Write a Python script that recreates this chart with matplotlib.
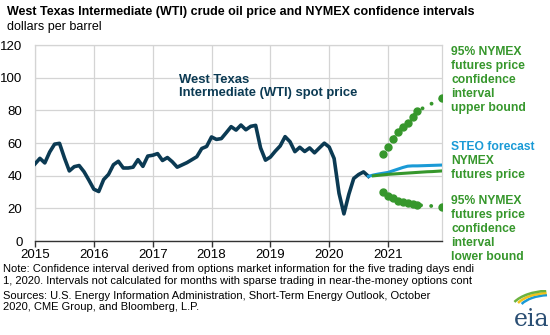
import numpy as np
import matplotlib.pyplot as plt
from matplotlib.patches import Arc

plt.rcParams['font.family'] = ['Liberation Sans', 'DejaVu Sans']

# monthly WTI spot price, Jan 2015 - Sep 2020
wti = [47.2, 50.6, 47.8, 54.5, 59.3, 59.8, 50.9, 42.9, 45.5, 46.2, 42.4, 37.2,
       31.7, 30.3, 37.6, 40.8, 46.7, 48.8, 44.7, 44.7, 45.2, 49.8, 45.7, 52.0,
       52.5, 53.5, 49.3, 51.1, 48.5, 45.2, 46.6, 48.0, 49.8, 51.6, 56.6, 57.9,
       63.7, 62.2, 62.7, 66.3, 70.0, 67.9, 71.0, 68.1, 70.2, 70.8, 57.0, 49.5,
       51.4, 55.0, 58.2, 63.9, 60.8, 54.7, 57.4, 54.8, 57.0, 54.0, 57.0, 59.9,
       57.5, 50.5, 29.2, 16.6, 28.6, 38.3, 40.7, 42.3, 39.6]
# STEO forecast, Sep 2020 - Dec 2021
steo = [39.6, 40.4, 41.0, 41.5, 42.0, 43.0, 44.0, 45.0, 45.8, 46.0, 46.0, 46.1,
        46.2, 46.3, 46.4, 46.5]
# NYMEX futures, Oct 2020 - Dec 2021
nymex = [39.9, 40.2, 40.5, 40.8, 41.0, 41.2, 41.4, 41.6, 41.8, 42.0, 42.2, 42.4,
         42.5, 42.7, 42.9]
# 95% confidence bounds, Dec 2020 - Jul 2021 and Dec 2021
ci_months = ['2020-12', '2021-01', '2021-02', '2021-03', '2021-04', '2021-05',
             '2021-06', '2021-07', '2021-12']
upper = [53.3, 57.7, 62.3, 66.5, 70.0, 72.5, 75.7, 79.6, 87.4]
lower = [29.8, 27.8, 26.1, 24.7, 23.9, 23.3, 22.7, 22.0, 21.0]

years = [2015, 2016, 2017, 2018, 2019, 2020, 2021]


def month_x(s):
    y, m = s.split('-')
    return int(y) + (int(m) - 1) / 12


x_wti = 2015 + np.arange(len(wti)) / 12
x_steo = 2020 + 8 / 12 + np.arange(len(steo)) / 12
x_nymex = 2020 + 9 / 12 + np.arange(len(nymex)) / 12
x_ci = np.array([month_x(s) for s in ci_months])

navy = '#0b3a53'
blue = '#1a9ad6'
green = '#36972c'

fig = plt.figure(figsize=(5.5, 3.35), dpi=100)
ax = fig.add_axes([35 / 550, 1 - 241 / 335, 407 / 550, 196 / 335])

ax.plot(x_wti, wti, color=navy, lw=2.6, solid_joinstyle='round', zorder=3)
ax.plot(x_steo, steo, color=blue, lw=2.2, zorder=3)
ax.plot(x_nymex, nymex, color=green, lw=2.2, zorder=4)

for vals in (upper, lower):
    ax.plot(x_ci, vals, color=green, lw=2.8, ls=(0, (0.01, 2.6)),
            dash_capstyle='round', zorder=4)
    ax.plot(x_ci, vals, 'o', color=green, ms=5, zorder=5)

ax.set_xlim(2015, 2021 + 11 / 12)
ax.set_ylim(0, 120)
ax.set_xticks(years)
ax.set_xticklabels([str(y) for y in years])
ax.set_yticks(range(0, 121, 20))
ax.grid(True, color='#d4d4d4', lw=0.9)
ax.set_axisbelow(True)
for side in ('left', 'top', 'right'):
    ax.spines[side].set_color('#d4d4d4')
    ax.spines[side].set_linewidth(0.9)
ax.spines['bottom'].set_color('#333333')
ax.spines['bottom'].set_linewidth(1.0)
ax.tick_params(axis='x', length=4, width=1, color='#333333', labelsize=9.5, pad=2)
ax.tick_params(axis='y', length=0, labelsize=9.5, pad=9)

ax.text(2017.45, 94.5, 'West Texas\nIntermediate (WTI) spot price', color=navy,
        fontsize=9.4, fontweight='bold', va='center', ha='left', linespacing=1.05)


def ftext(x, y, s, **kw):
    fig.text(x / 550, 1 - y / 335, s, va='center', ha='left', **kw)


ftext(7, 12, 'West Texas Intermediate (WTI) crude oil price and NYMEX confidence intervals',
      fontsize=9, fontweight='bold')
ftext(7, 27, 'dollars per barrel', fontsize=9)

side = dict(fontsize=8.7, fontweight='bold', linespacing=1.2)
ftext(451, 80, '95% NYMEX\nfutures price\nconfidence\ninterval\nupper bound',
      color=green, **side)
ftext(451, 147, 'STEO forecast', color=blue, **side)
ftext(451, 168, 'NYMEX\nfutures price', color=green, **side)
ftext(451, 229, '95% NYMEX\nfutures price\nconfidence\ninterval\nlower bound',
      color=green, **side)

note = dict(fontsize=8)
ftext(3, 269, 'Note: Confidence interval derived from options market information for the five trading days endi',
      **note)
ftext(3, 281, '1, 2020. Intervals not calculated for months with sparse trading in near-the-money options cont',
      **note)
ftext(3, 296, 'Sources: U.S. Energy Information Administration, Short-Term Energy Outlook, October',
      **note)
ftext(3, 307, '2020, CME Group, and Bloomberg, L.P.', **note)

# eia logo
fig.text(532 / 550, 1 - 320 / 335, 'eia', color='#2a4e73', fontsize=17,
         ha='center', va='center', family='DejaVu Serif')
lax = fig.add_axes([505 / 550, 1 - 312 / 335, 45 / 550, 22 / 335])
lax.set_xlim(0, 1)
lax.set_ylim(0, 1)
lax.axis('off')
for r, c in ((0.55, '#1a9ad6'), (0.62, '#f2c21b'), (0.69, '#6cb33f')):
    lax.add_patch(Arc((1.0, 0.0), 2 * r * 1.3, 2 * r * 1.4, theta1=95, theta2=150,
                      color=c, lw=1.8))

fig.savefig('out.png', dpi=100)
